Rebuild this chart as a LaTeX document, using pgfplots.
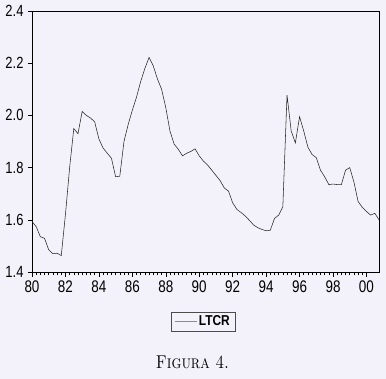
\documentclass[border=0pt]{standalone}
\usepackage{fontspec}
\setsansfont{Liberation Sans}
\usepackage{pgfplots}
\pgfplotsset{compat=1.18}
\definecolor{paper}{RGB}{243,242,250}
\newcommand{\tl}[1]{\scalebox{1}[1.25]{#1}}
\begin{document}
\begin{tikzpicture}[x=1bp,y=1bp]
\fill[paper] (-32,-107) rectangle (354,272);
\begin{axis}[
  at={(0,0)}, anchor=south west,
  scale only axis, width=347bp, height=261bp,
  xmin=1980, xmax=2000.75, ymin=1.4, ymax=2.4,
  axis background/.style={fill=paper},
  xtick={1980,1982,1984,1986,1988,1990,1992,1994,1996,1998,2000},
  xticklabels={\tl{80},\tl{82},\tl{84},\tl{86},\tl{88},\tl{90},\tl{92},\tl{94},\tl{96},\tl{98},\tl{00}},
  minor x tick num=7,
  ytick={1.4,1.6,1.8,2.0,2.2,2.4},
  yticklabels={\tl{1.4},\tl{1.6},\tl{1.8},\tl{2.0},\tl{2.2},\tl{2.4}},
  xtick pos=bottom, ytick pos=left,
  tick align=outside,
  major tick length=4.5bp, minor tick length=3bp,
  every tick/.style={black, line width=0.5pt},
  axis line style={black, line width=0.7pt},
  xticklabel style={font=\sffamily\fontsize{13.5}{15}\selectfont, yshift=-0.5bp},
  yticklabel style={font=\sffamily\fontsize{13}{15}\selectfont, xshift=-0.5bp},
  legend style={at={(0.493,-0.19)}, anchor=center, draw=black!70,
    font=\sffamily\bfseries\fontsize{12}{14}\selectfont, fill=paper,
    inner xsep=3bp, inner ysep=1.5bp},
  legend image code/.code={\draw[#1,black!45] (0bp,0bp) -- (22bp,0bp);},
]
\addplot[black!85, line width=0.55pt] table {
x y
1980.00 1.593
1980.25 1.574
1980.50 1.535
1980.75 1.529
1981.00 1.485
1981.25 1.470
1981.50 1.472
1981.75 1.463
1982.00 1.620
1982.25 1.800
1982.50 1.950
1982.75 1.930
1983.00 2.015
1983.25 2.000
1983.50 1.990
1983.75 1.975
1984.00 1.910
1984.25 1.875
1984.50 1.855
1984.75 1.836
1985.00 1.765
1985.25 1.767
1985.50 1.900
1985.75 1.965
1986.00 2.020
1986.25 2.070
1986.50 2.130
1986.75 2.180
1987.00 2.222
1987.25 2.190
1987.50 2.140
1987.75 2.100
1988.00 2.030
1988.25 1.940
1988.50 1.890
1988.75 1.870
1989.00 1.845
1989.25 1.855
1989.50 1.862
1989.75 1.872
1990.00 1.845
1990.25 1.825
1990.50 1.810
1990.75 1.790
1991.00 1.770
1991.25 1.750
1991.50 1.722
1991.75 1.710
1992.00 1.665
1992.25 1.640
1992.50 1.628
1992.75 1.615
1993.00 1.598
1993.25 1.580
1993.50 1.570
1993.75 1.563
1994.00 1.558
1994.25 1.560
1994.50 1.605
1994.75 1.618
1995.00 1.650
1995.25 2.078
1995.50 1.940
1995.75 1.895
1996.00 1.995
1996.25 1.940
1996.50 1.878
1996.75 1.850
1997.00 1.838
1997.25 1.790
1997.50 1.765
1997.75 1.735
1998.00 1.737
1998.25 1.735
1998.50 1.735
1998.75 1.790
1999.00 1.800
1999.25 1.745
1999.50 1.670
1999.75 1.648
2000.00 1.632
2000.25 1.618
2000.50 1.625
2000.75 1.600
};
\addlegendentry{\scalebox{1}[1.2]{LTCR}}
\end{axis}
\node[font=\rmfamily\fontsize{15.5}{17}\selectfont] at (160.5,-90) {\scalebox{1}[1.2]{\textsc{Figura 4.}}};
\end{tikzpicture}
\end{document}
